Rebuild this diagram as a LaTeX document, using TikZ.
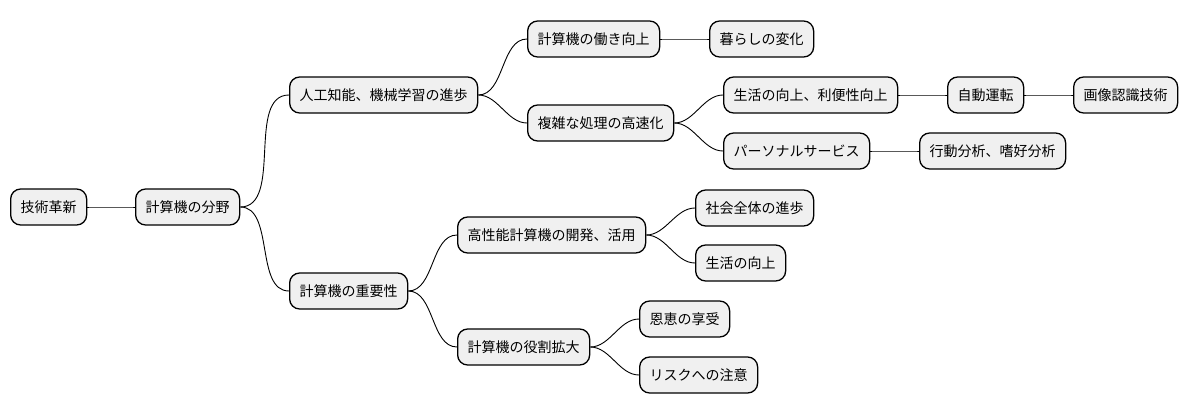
\documentclass[tikz,border=0pt]{standalone}
\usepackage{fontspec}
\setmainfont{Noto Sans CJK JP}
\usepackage{tikz}
\tikzset{
  every path/.style={line width=0.9pt},
  topic/.style={draw, line width=1.3pt, fill=black!6, rounded corners=10pt,
    minimum height=36pt, inner xsep=10pt, anchor=west,
    font=\fontsize{14}{16}\selectfont},
  branch/.style={out=0, in=180, looseness=0.9}
}

\begin{document}
\begin{tikzpicture}[x=1pt, y=-1pt]
    \useasboundingbox (0,0) rectangle (1188,415);

    \node[topic] (tech) at (10,207) {技術革新};
    \node[topic] (field) at (135,207) {計算機の分野};

    \node[topic] (ai) at (289,95) {人工知能、機械学習の進歩};
    \node[topic] (work) at (527,39) {計算機の働き向上};
    \node[topic] (life) at (709,39) {暮らしの変化};
    \node[topic] (fast) at (527,123) {複雑な処理の高速化};
    \node[topic] (conv) at (723,95) {生活の向上、利便性向上};
    \node[topic] (auto) at (947,95) {自動運転};
    \node[topic] (image) at (1073,95) {画像認識技術};
    \node[topic] (pers) at (723,151) {パーソナルサービス};
    \node[topic] (behav) at (919,151) {行動分析、嗜好分析};

    \node[topic] (imp) at (289,291) {計算機の重要性};
    \node[topic] (hpc) at (457,235) {高性能計算機の開発、活用};
    \node[topic] (soc) at (695,208) {社会全体の進歩};
    \node[topic] (liv) at (695,263) {生活の向上};
    \node[topic] (role) at (457,347) {計算機の役割拡大};
    \node[topic] (ben) at (639,319) {恩恵の享受};
    \node[topic] (risk) at (639,375) {リスクへの注意};

    \foreach \a/\b in {tech/field, field/ai, field/imp, ai/work, ai/fast,
        work/life, fast/conv, fast/pers, conv/auto, auto/image, pers/behav,
        imp/hpc, imp/role, hpc/soc, hpc/liv, role/ben, role/risk}
      \draw (\a.east) to[branch] (\b.west);
\end{tikzpicture}
\end{document}
